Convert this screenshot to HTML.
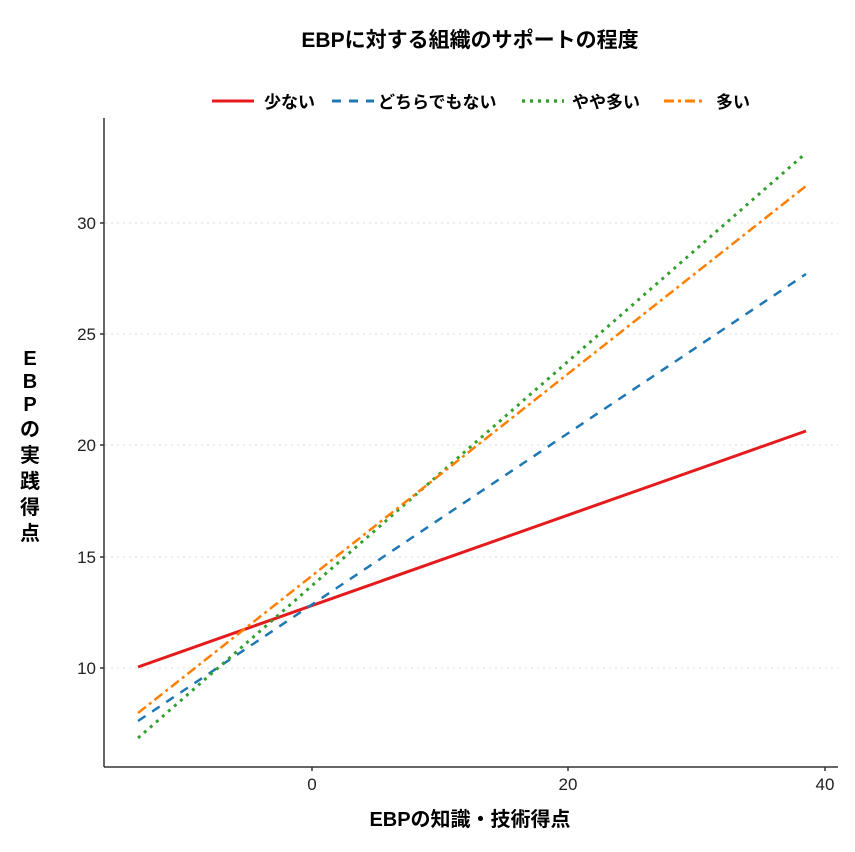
<!DOCTYPE html>
<html><head><meta charset="utf-8"><style>
body{margin:0;background:#fff;}
text{font-family:"Liberation Sans","Noto Sans CJK JP",sans-serif;}
</style></head><body>
<svg width="855" height="847" xmlns="http://www.w3.org/2000/svg">
<rect width="855" height="847" fill="#fff"/>
<text x="470" y="47" font-size="21" font-weight="bold" text-anchor="middle" fill="#000">EBPに対する組織のサポートの程度</text>
<g font-size="17" font-weight="bold" fill="#000">
<line x1="212" y1="101" x2="254" y2="101" stroke="#e41a1c" stroke-width="3"/>
<text x="264" y="108">少ない</text>
<line x1="332" y1="101" x2="374" y2="101" stroke="#1f78b4" stroke-width="3" stroke-dasharray="9,8"/>
<text x="378" y="108">どちらでもない</text>
<line x1="522" y1="101" x2="564" y2="101" stroke="#33a02c" stroke-width="3.5" stroke-dasharray="3,5"/>
<text x="572" y="108">やや多い</text>
<line x1="664" y1="101" x2="706" y2="101" stroke="#ff7f00" stroke-width="3" stroke-dasharray="10,4,3,4"/>
<text x="716" y="108">多い</text>
</g>
<g stroke="#ddd" stroke-width="1" stroke-dasharray="2,4">
<line x1="105" y1="223" x2="838" y2="223"/>
<line x1="105" y1="334" x2="838" y2="334"/>
<line x1="105" y1="445" x2="838" y2="445"/>
<line x1="105" y1="557" x2="838" y2="557"/>
<line x1="105" y1="668" x2="838" y2="668"/>
</g>
<g stroke="#333" stroke-width="1.5">
<line x1="104" y1="118" x2="104" y2="767"/>
<line x1="104" y1="767" x2="838" y2="767"/>
<line x1="100" y1="223" x2="104" y2="223"/><line x1="100" y1="334" x2="104" y2="334"/>
<line x1="100" y1="445" x2="104" y2="445"/><line x1="100" y1="557" x2="104" y2="557"/>
<line x1="100" y1="668" x2="104" y2="668"/>
<line x1="312" y1="767" x2="312" y2="771"/><line x1="568" y1="767" x2="568" y2="771"/><line x1="825" y1="767" x2="825" y2="771"/>
</g>
<g font-size="17" fill="#222" text-anchor="end">
<text x="96" y="229">30</text><text x="96" y="340">25</text><text x="96" y="451">20</text><text x="96" y="563">15</text><text x="96" y="674">10</text>
</g>
<g font-size="17" fill="#222" text-anchor="middle">
<text x="312" y="790">0</text><text x="568" y="790">20</text><text x="825" y="790">40</text>
</g>
<text x="470" y="826" font-size="20" font-weight="bold" text-anchor="middle">EBPの知識・技術得点</text>
<g font-size="20" font-weight="bold" text-anchor="middle">
<text x="30" y="365">E</text><text x="30" y="388">B</text><text x="30" y="411">P</text><text x="30" y="436">の</text>
<text x="30" y="462">実</text><text x="30" y="488">践</text><text x="30" y="514">得</text><text x="30" y="540">点</text>
</g>
<line x1="138" y1="667" x2="806" y2="431" stroke="#e41a1c" stroke-width="3"/>
<line x1="138" y1="721" x2="806" y2="274" stroke="#1f78b4" stroke-width="2.5" stroke-dasharray="9,8"/>
<line x1="138" y1="738" x2="806" y2="153" stroke="#33a02c" stroke-width="3" stroke-dasharray="3,5"/>
<line x1="138" y1="713" x2="806" y2="186" stroke="#ff7f00" stroke-width="2.5" stroke-dasharray="10,4,3,4"/>
</svg>
</body></html>
